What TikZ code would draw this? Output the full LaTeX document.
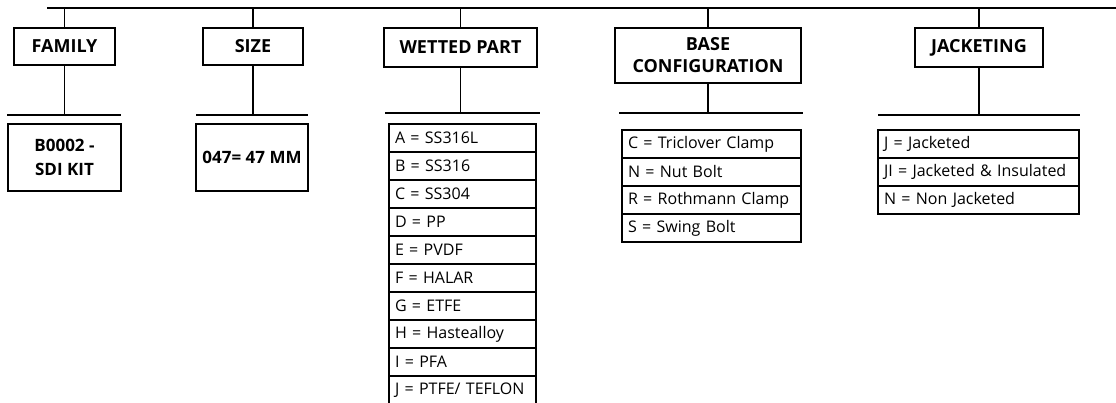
\documentclass[tikz,border=0pt]{standalone}
\usepackage{fontspec}
\setmainfont{Open Sans}
\usetikzlibrary{positioning}

\begin{document}
\begin{tikzpicture}[
    x=1pt, y=-1pt, line width=1.1pt,
    node distance=0pt,
    hdr/.style={rectangle, draw, outer sep=0pt, minimum height=37pt, align=center,
                font=\fontsize{18}{22}\selectfont\bfseries},
    valbox/.style={rectangle, draw, outer sep=0pt, minimum height=67pt, align=center,
                   font=\fontsize{17}{24}\selectfont\bfseries},
    item/.style={rectangle, draw, outer sep=0pt, minimum height=28pt, text width=#1,
                 inner xsep=6pt, align=left, anchor=north west, font=\fontsize{16}{18}\selectfont},
    bus/.style={line width=1.1pt}
  ]
  \useasboundingbox (0,0) rectangle (1116,403);

  % top bus
  \coordinate (busl) at (47,8);
  \coordinate (busr) at (1116,8);
  \draw[bus] (busl) -- (busr);

  % headers
  \node[hdr, minimum width=101pt] (fam) at (64.5,46.5) {FAMILY};
  \node[hdr, minimum width=100pt] (size) at (253,46.5) {SIZE};
  \node[hdr, minimum width=153pt, minimum height=39pt] (wet) at (460.5,47.5) {WETTED PART};
  \node[hdr, minimum width=186pt, minimum height=55pt] (base) at (708,55.5) {BASE\\CONFIGURATION};
  \node[hdr, minimum width=128pt, minimum height=39pt] (jack) at (979,47.5) {JACKETING};

  \draw[bus] (fam) -- (fam |- busl);
  \draw[bus] (size) -- (size |- busl);
  \draw[bus] (wet) -- (wet |- busl);
  \draw[bus] (base) -- (base |- busl);
  \draw[bus] (jack) -- (jack |- busl);

  % separators
  \coordinate (fs1) at (7,115);   \coordinate (fs2) at (121,115);
  \coordinate (ss1) at (196,115); \coordinate (ss2) at (308,115);
  \coordinate (ws1) at (385,113); \coordinate (ws2) at (540,113);
  \coordinate (bs1) at (619,113); \coordinate (bs2) at (803,113);
  \coordinate (js1) at (878,115); \coordinate (js2) at (1080,115);
  \draw[bus] (fs1) -- (fs2);
  \draw[bus] (ss1) -- (ss2);
  \draw[bus] (ws1) -- (ws2);
  \draw[bus] (bs1) -- (bs2);
  \draw[bus] (js1) -- (js2);
  \draw[bus] (fam) -- (fam |- fs1);
  \draw[bus] (size) -- (size |- ss1);
  \draw[bus] (wet) -- (wet |- ws1);
  \draw[bus] (base) -- (base |- bs1);
  \draw[bus] (jack) -- (jack |- js1);

  % codes
  \node[valbox, minimum width=113pt] (famval) at (64.5,157.5) {B0002 -\\SDI KIT};
  \node[valbox, minimum width=112pt] (sizeval) at (252,157.5) {047= 47 MM};

  % wetted part
  \node[item=135pt] (w1) at (389,124) {A = SS316L};
  \node[item=135pt, below=of w1] (w2) {B = SS316};
  \node[item=135pt, below=of w2] (w3) {C = SS304};
  \node[item=135pt, below=of w3] (w4) {D = PP};
  \node[item=135pt, below=of w4] (w5) {E = PVDF};
  \node[item=135pt, below=of w5] (w6) {F = HALAR};
  \node[item=135pt, below=of w6] (w7) {G = ETFE};
  \node[item=135pt, below=of w7] (w8) {H = Hastealloy};
  \node[item=135pt, below=of w8] (w9) {I = PFA};
  \node[item=135pt, below=of w9] (w10) {J = PTFE/ TEFLON};

  % base configuration
  \node[item=167pt] (b1) at (622,130) {C = Triclover Clamp};
  \node[item=167pt, below=of b1] (b2) {N = Nut Bolt};
  \node[item=167pt, below=of b2] (b3) {R = Rothmann Clamp};
  \node[item=167pt, below=of b3] (b4) {S = Swing Bolt};

  % jacketing
  \node[item=189pt] (j1) at (878,130) {J = Jacketed};
  \node[item=189pt, below=of j1] (j2) {JI = Jacketed \& Insulated};
  \node[item=189pt, below=of j2] (j3) {N = Non Jacketed};
\end{tikzpicture}
\end{document}
